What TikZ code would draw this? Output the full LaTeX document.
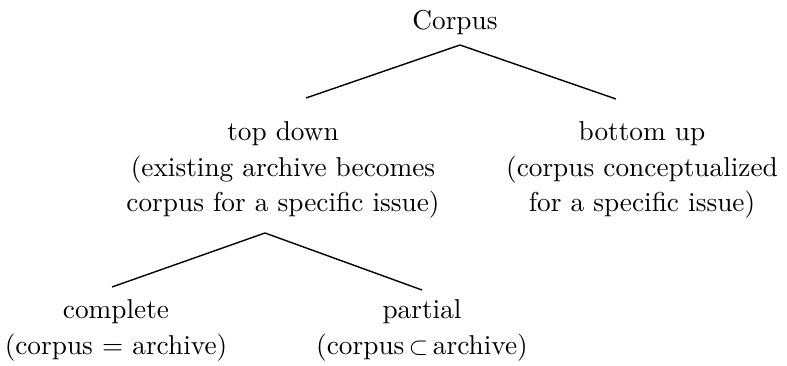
\documentclass[tikz,border=0pt]{standalone}
\usepackage{amssymb}
% Latin Modern at its 10pt design size, which is a little darker when enlarged
\font\lmten="[lmroman10-regular.otf]" at 27.3pt
\begin{document}
\begin{tikzpicture}[x=1pt,y=-1pt,
  label/.style={font=\fontsize{27.3}{35.5}\selectfont\lmten, align=center, inner sep=0pt, anchor=base},
  branch/.style={line width=1.4pt, black}]
  \useasboundingbox (0,0) rectangle (787,366);

  % tree labels (anchored at the baseline of their last line)
  \node[label] (corpus)   at (455,30)  {Corpus};
  \node[label] (topdown)  at (283,212) {top down\\(existing archive becomes\\corpus for a specific issue)};
  \node[label] (bottomup) at (642,212) {bottom up\\(corpus conceptualized\\for a specific issue)};
  \node[label] (complete) at (116,354) {complete\\(corpus = archive)};
  \node[label] (partial)  at (422,354) {partial\\(corpus\,$\subset$\,archive)};

  % branch points
  \coordinate (fork1) at (460,45);
  \coordinate (fork1l) at (306,98);
  \coordinate (fork1r) at (616,99);
  \coordinate (fork2) at (265,233);
  \coordinate (fork2l) at (112,287);
  \coordinate (fork2r) at (422,290);

  \draw[branch] (fork1l) -- (fork1) -- (fork1r);
  \draw[branch] (fork2l) -- (fork2) -- (fork2r);
\end{tikzpicture}
\end{document}
